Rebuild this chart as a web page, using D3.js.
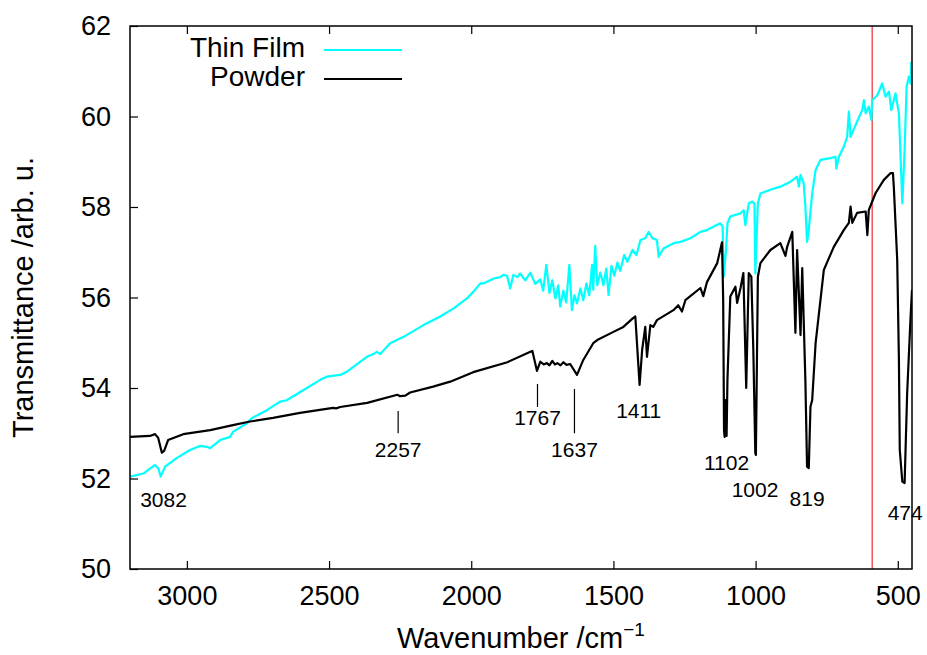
<!DOCTYPE html>
<html>
<head>
<meta charset="utf-8">
<script src="https://cdn.jsdelivr.net/npm/d3@7"></script>
<style>
  body { margin: 0; background: #fff; }
  text { font-family: "Liberation Sans", Arial, sans-serif; fill: #000; }
</style>
</head>
<body>
<div id="spectrum"></div>
<script>
// spectra: [wavenumber, transmittance]
const thinFilm = [
  [3199,52.04],[3153,52.11],[3112,52.30],[3100,52.22],[3092,52.04],[3077,52.26],[3036,52.45],[2989,52.63],
  [2954,52.72],[2930,52.70],[2918,52.67],[2883,52.85],[2848,52.92],[2838,53.03],[2789,53.22],[2772,53.33],
  [2719,53.51],[2672,53.70],[2649,53.73],[2578,54.00],[2531,54.18],[2508,54.25],[2461,54.29],[2437,54.36],
  [2367,54.69],[2344,54.75],[2332,54.80],[2320,54.75],[2285,54.99],[2238,55.13],[2168,55.39],[2109,55.58],
  [2062,55.76],[2015,55.98],[1992,56.13],[1968,56.31],[1957,56.31],[1921,56.42],[1898,56.45],[1887,56.50],
  [1874,56.48],[1863,56.20],[1852,56.50],[1838,56.45],[1828,56.53],[1810,56.38],[1792,56.55],[1775,56.30],
  [1757,56.40],[1747,56.15],[1736,56.72],[1725,56.10],[1715,56.38],[1704,55.98],[1694,56.27],[1687,55.80],
  [1676,56.15],[1666,55.89],[1655,56.72],[1646,55.72],[1637,56.05],[1628,55.87],[1616,56.20],[1606,55.94],
  [1595,56.31],[1585,56.05],[1575,56.72],[1571,56.17],[1564,57.14],[1557,56.27],[1546,56.55],[1535,56.27],
  [1525,56.64],[1517,56.05],[1507,56.70],[1497,56.48],[1486,56.77],[1476,56.59],[1462,56.94],[1451,56.79],
  [1433,57.05],[1419,56.94],[1405,57.27],[1388,57.31],[1376,57.45],[1363,57.31],[1347,57.27],[1341,56.90],
  [1323,57.09],[1288,57.20],[1264,57.23],[1229,57.31],[1194,57.45],[1171,57.49],[1124,57.64],[1116,57.57],
  [1112,56.46],[1104,57.05],[1099,57.64],[1089,57.79],[1053,57.86],[1042,57.93],[1036,57.60],[1024,58.08],
  [1012,58.12],[1004,58.08],[1001,56.53],[992,58.08],[983,58.30],[948,58.38],[913,58.45],[877,58.56],
  [854,58.67],[848,58.45],[842,58.71],[831,58.52],[825,58.01],[819,57.23],[813,57.49],[801,58.30],
  [789,58.82],[772,59.04],[737,59.08],[719,59.11],[716,58.85],[707,59.11],[690,59.33],[678,59.55],
  [672,60.11],[666,59.55],[643,59.89],[625,60.14],[619,60.36],[613,60.07],[602,60.22],[593,59.92],
  [590,60.36],[572,60.47],[555,60.73],[543,60.44],[531,60.55],[523,60.14],[508,60.51],[496,60.07],
  [484,58.08],[476,59.26],[469,60.66],[461,60.88],[455,60.73],[453,61.18],[450,61.20]
];

const powder = [
  [3200,52.92],[3130,52.94],[3112,52.98],[3101,52.90],[3088,52.57],[3080,52.61],[3066,52.85],[3013,52.98],
  [2918,53.07],[2838,53.18],[2778,53.26],[2697,53.34],[2602,53.45],[2486,53.56],[2475,53.55],[2461,53.58],
  [2366,53.67],[2260,53.85],[2250,53.82],[2232,53.83],[2215,53.90],[2134,54.03],[2074,54.14],[1993,54.35],
  [1873,54.57],[1792,54.80],[1785,54.82],[1769,54.38],[1757,54.58],[1745,54.52],[1734,54.55],[1725,54.50],
  [1715,54.60],[1706,54.52],[1697,54.55],[1686,54.50],[1676,54.57],[1665,54.51],[1652,54.53],[1628,54.29],
  [1606,54.62],[1571,54.99],[1557,55.06],[1500,55.24],[1465,55.35],[1430,55.55],[1423,55.58],[1408,54.07],
  [1399,54.84],[1388,55.35],[1382,54.69],[1370,55.39],[1360,55.35],[1347,55.50],[1289,55.72],[1272,55.83],
  [1259,55.69],[1247,55.94],[1194,56.21],[1184,56.03],[1171,56.34],[1135,56.76],[1118,57.22],[1114,55.94],
  [1111,53.07],[1109,52.92],[1106,53.73],[1104,53.18],[1102,52.94],[1099,54.18],[1089,56.02],[1071,56.24],
  [1065,55.88],[1053,56.21],[1043,56.54],[1033,54.00],[1024,56.54],[1015,56.46],[1008,54.84],[1001,52.56],
  [999,52.52],[992,56.46],[983,56.76],[948,57.05],[913,57.20],[895,56.92],[889,57.12],[871,57.45],
  [860,55.22],[854,57.05],[842,55.17],[836,56.65],[825,54.18],[819,52.26],[813,52.23],[807,53.59],
  [801,53.73],[789,54.99],[760,56.61],[725,57.12],[690,57.49],[672,57.65],[666,58.01],[660,57.65],
  [643,57.87],[613,57.90],[607,57.38],[602,57.93],[578,58.31],[549,58.60],[525,58.75],[517,58.75],
  [514,58.45],[502,56.83],[496,54.62],[493,52.63],[484,51.93],[476,51.90],[467,53.89],[455,55.57],[450,56.17]
];

// peak labels: wavenumber, text baseline level
const peakWn = [3082, 2257, 1767, 1637, 1411, 1102, 1002, 819, 474];
const peakLabelAt = [51.37, 52.47, 53.18, 52.47, 53.34, 52.19, 51.59, 51.39, 51.08];
// short marker bars: wavenumber, from, to
const peakBars = [[2257, 53.0, 53.49], [1767, 53.58, 54.09], [1637, 53.0, 53.98]];

const xTicks = [3000, 2500, 2000, 1500, 1000, 500];
const yTicks = [50, 52, 54, 56, 58, 60, 62];
const markerWn = 590;
const seriesNames = ["Thin Film", "Powder"];
const seriesColors = ["#00ffff", "#000000"];

// set the dimensions and margins of the graph
const margin = {top: 26, right: 15, bottom: 86, left: 130},
  width = 927 - margin.left - margin.right,
  height = 655 - margin.top - margin.bottom;

const svg = d3.select("#spectrum")
  .append("svg")
  .attr("width", width + margin.left + margin.right)
  .attr("height", height + margin.top + margin.bottom)
  .append("g")
  .attr("transform", `translate(${margin.left},${margin.top})`);

const x = d3.scaleLinear().domain([3200, 450]).range([0, width]);
const y = d3.scaleLinear().domain([50, 62]).range([height, 0]);

svg.append("clipPath").attr("id", "plot-clip")
  .append("rect").attr("width", width).attr("height", height);

// bottom axis, ticks pointing inwards
const xAxis = svg.append("g")
  .attr("transform", `translate(0,${height})`)
  .call(d3.axisBottom(x).tickValues(xTicks).tickFormat(d3.format("d"))
    .tickSize(-8).tickSizeOuter(0).tickPadding(17));
xAxis.selectAll("text").attr("font-size", 27).attr("font-family", null);

// mirrored top ticks
svg.append("g")
  .call(d3.axisTop(x).tickValues(xTicks).tickSize(-8).tickSizeOuter(0).tickFormat(""));

const yAxis = svg.append("g")
  .call(d3.axisLeft(y).tickValues(yTicks).tickSize(-8).tickSizeOuter(0).tickPadding(19));
yAxis.selectAll("text").attr("font-size", 27).attr("font-family", null);

svg.selectAll(".domain").remove();
svg.selectAll(".tick line").attr("stroke", "#000").attr("stroke-width", 1.2);

// red marker line
svg.append("line")
  .attr("x1", x(markerWn)).attr("x2", x(markerWn))
  .attr("y1", 0).attr("y2", height)
  .attr("stroke", "#f03c3c").attr("stroke-width", 1.3);

const line = d3.line()
  .x(d => x(d[0]))
  .y(d => y(d[1]));

[thinFilm, powder].forEach((data, i) => {
  svg.append("path")
    .datum(data)
    .attr("clip-path", "url(#plot-clip)")
    .attr("fill", "none")
    .attr("stroke", seriesColors[i])
    .attr("stroke-width", 2.2)
    .attr("stroke-linejoin", "round")
    .attr("d", line);
});

// frame
svg.append("rect")
  .attr("width", width).attr("height", height)
  .attr("fill", "none").attr("stroke", "#000").attr("stroke-width", 1.5);

// peak annotations
svg.selectAll(".peak-bar")
  .data(peakBars)
  .join("line")
  .attr("class", "peak-bar")
  .attr("x1", d => x(d[0])).attr("x2", d => x(d[0]))
  .attr("y1", d => y(d[1])).attr("y2", d => y(d[2]))
  .attr("stroke", "#000").attr("stroke-width", 1.2);

svg.selectAll(".peak-label")
  .data(peakWn)
  .join("text")
  .attr("class", "peak-label")
  .attr("x", d => x(d))
  .attr("y", (d, i) => y(peakLabelAt[i]))
  .attr("text-anchor", "middle")
  .attr("font-size", 21)
  .text(d => d);

// legend
const legend = svg.append("g")
  .selectAll("g")
  .data(seriesNames)
  .join("g")
  .attr("transform", (d, i) => `translate(0,${31 + i * 29})`);

legend.append("text")
  .attr("x", 175)
  .attr("text-anchor", "end")
  .attr("font-size", 28)
  .text(d => d);

legend.append("line")
  .attr("x1", 194).attr("x2", 272)
  .attr("y1", -7).attr("y2", -7)
  .attr("stroke", (d, i) => seriesColors[i])
  .attr("stroke-width", 2);

// axis labels
const xLabel = svg.append("text")
  .attr("text-anchor", "middle")
  .attr("x", width / 2)
  .attr("y", height + 79)
  .attr("font-size", 29);
xLabel.append("tspan").text("Wavenumber /cm");
xLabel.append("tspan").attr("font-size", 19).attr("dy", -12).text("−1");

svg.append("text")
  .attr("text-anchor", "middle")
  .attr("transform", "rotate(-90)")
  .attr("x", -height / 2)
  .attr("y", -97)
  .attr("font-size", 29)
  .text("Transmittance /arb. u.");
</script>
</body>
</html>
